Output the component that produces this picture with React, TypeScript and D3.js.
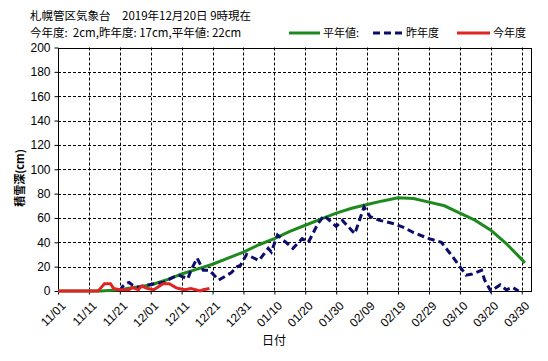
import React, { useEffect, useRef } from "react";
import * as d3 from "d3";

// days counted from 2019-11-01
const normalDays = [0, 14, 20, 25, 30, 35, 40, 45, 50, 55, 60, 65, 70, 75, 80, 85, 90, 95, 100, 105, 110, 115, 120, 125, 130, 135, 140, 145, 150, 151];
const normalVals = [0, 0, 1, 3, 5, 9, 14, 18, 22, 27, 32, 38, 43, 49, 54, 59, 64, 68, 71, 74, 76.5, 76, 73, 70, 64, 58, 50, 39, 26, 23];

const lastDays = [20, 21, 22, 23, 24, 26, 29, 34, 37, 39, 42, 43, 45, 47, 49, 52, 56, 58, 59, 61, 65, 68, 69, 71, 76, 79, 81, 84, 86, 90, 92, 96, 99, 101, 104, 106, 109, 112, 115, 120, 124, 128, 132, 134, 137, 138, 140, 143, 145, 147, 149];
const lastVals = [0, 4, 6, 7, 5, 3, 5, 7, 11, 13, 10, 17, 27, 17, 17, 9, 15, 20, 21, 30, 25, 35, 32, 46, 35, 43, 40, 55, 62, 53, 58, 47, 69, 61, 58, 57, 55, 52, 48, 43, 40, 27, 13, 14, 17, 9, 0, 5, 1, 3, 0];

const thisDays = [0, 13, 14, 15, 17, 18, 20, 23, 24, 26, 27, 29, 31, 34, 36, 38, 39, 41, 43, 46, 47, 49];
const thisVals = [0, 0, 3, 6, 6, 2, 1, 1, 3, 1, 4, 2, 1, 6, 6, 3, 2, 1, 2, 0, 1, 2];

const tickDays = d3.range(0, 151, 10);
const yTicks = [0, 20, 40, 60, 80, 100, 120, 140, 160, 180, 200];

const titleLines = [
  "札幌管区気象台　2019年12月20日 9時現在",
  "今年度:  2cm,昨年度: 17cm,平年値: 22cm",
];

const legendItems = [
  { label: "平年値:", color: "#1e8a1e", dash: null, x1: 289, x2: 320 },
  { label: "昨年度", color: "#0c0c6a", dash: "7,4", x1: 373, x2: 403 },
  { label: "今年度", color: "#e02424", dash: null, x1: 457, x2: 490 },
];

const start = new Date(2019, 10, 1);
const fmt = d3.timeFormat("%m/%d");
const jp = "'Noto Sans CJK JP', sans-serif";
const num = "'Liberation Sans Narrow', 'Liberation Sans', sans-serif";

const SnowChart = () => {
  const ref = useRef(null);

  useEffect(() => {
    document.body.style.margin = "0";
    const svg = d3.select(ref.current);
    svg.selectAll("*").remove();

    const width = 548, height = 361;
    const left = 58, right = 531, top = 47.5, bottom = 291;

    svg.attr("width", width).attr("height", height).style("background", "#fff").style("display", "block");

    const x = d3.scaleLinear().domain([0, 153]).range([left, right]);
    const y = d3.scaleLinear().domain([0, 200]).range([bottom, top]);

    // grid
    const grid = svg.append("g").attr("stroke", "#000").attr("stroke-width", 1).attr("stroke-dasharray", "3,2");
    grid.selectAll("line.h")
      .data(yTicks.filter((t) => t > 0 && t < 200))
      .join("line")
      .attr("x1", left).attr("x2", right)
      .attr("y1", (d) => Math.round(y(d)) + 0.5).attr("y2", (d) => Math.round(y(d)) + 0.5);
    grid.selectAll("line.v")
      .data(tickDays.filter((t) => t > 0))
      .join("line")
      .attr("y1", top).attr("y2", bottom)
      .attr("x1", (d) => Math.round(x(d)) + 0.5).attr("x2", (d) => Math.round(x(d)) + 0.5);

    // frame
    svg.append("rect")
      .attr("x", left + 0.5).attr("y", Math.round(top) + 0.5)
      .attr("width", right - left).attr("height", bottom - Math.round(top))
      .attr("fill", "none").attr("stroke", "#000").attr("stroke-width", 1);

    // y axis
    svg.append("g")
      .attr("transform", `translate(${left + 0.5},0)`)
      .call(d3.axisLeft(y).tickValues(yTicks).tickSize(4).tickPadding(4))
      .call((g) => g.select(".domain").remove())
      .call((g) => g.selectAll("text").attr("font-family", num).attr("font-size", 12).attr("fill", "#000"));

    // x axis
    const xAxis = svg.append("g")
      .attr("transform", `translate(0,${bottom + 0.5})`)
      .call(d3.axisBottom(x).tickValues(tickDays).tickSize(3).tickFormat((d) => fmt(d3.timeDay.offset(start, d))))
      .call((g) => g.select(".domain").remove());
    xAxis.selectAll("text")
      .attr("font-family", num)
      .attr("font-size", 12)
      .attr("fill", "#000")
      .attr("text-anchor", "end")
      .attr("dy", "0.35em")
      .attr("transform", "translate(5,12) rotate(-45)")
      .attr("y", 0)
      .attr("x", 0);

    const line = d3.line().x((d) => x(d[0])).y((d) => y(d[1]));

    svg.append("path")
      .datum(normalDays.map((d, i) => [d, normalVals[i]]))
      .attr("d", line)
      .attr("fill", "none").attr("stroke", legendItems[0].color).attr("stroke-width", 3);

    svg.append("path")
      .datum(lastDays.map((d, i) => [d, lastVals[i]]))
      .attr("d", line)
      .attr("fill", "none").attr("stroke", legendItems[1].color).attr("stroke-width", 3)
      .attr("stroke-dasharray", "7,4");

    svg.append("path")
      .datum(thisDays.map((d, i) => [d, thisVals[i]]))
      .attr("d", line)
      .attr("fill", "none").attr("stroke", legendItems[2].color).attr("stroke-width", 3);

    // title
    svg.selectAll("text.title")
      .data(titleLines)
      .join("text")
      .attr("x", 30)
      .attr("y", (d, i) => 20 + i * 17)
      .attr("font-family", jp)
      .attr("font-size", 11.5)
      .attr("fill", "#000")
      .style("white-space", "pre")
      .text((d) => d);

    // legend
    const lg = svg.append("g");
    legendItems.forEach((it) => {
      lg.append("line")
        .attr("x1", it.x1).attr("x2", it.x2).attr("y1", 33).attr("y2", 33)
        .attr("stroke", it.color).attr("stroke-width", 3)
        .attr("stroke-dasharray", it.dash);
      lg.append("text")
        .attr("x", it.x2 + 3).attr("y", 37)
        .attr("font-family", jp).attr("font-size", 11).attr("fill", "#000")
        .text(it.label);
    });

    // axis titles
    svg.append("text")
      .attr("transform", "translate(24,178) rotate(-90)")
      .attr("text-anchor", "middle")
      .attr("font-family", jp).attr("font-size", 11).attr("font-weight", "bold")
      .text("積雪深(cm)");

    svg.append("text")
      .attr("x", 274).attr("y", 345)
      .attr("text-anchor", "middle")
      .attr("font-family", jp).attr("font-size", 12)
      .text("日付");
  }, []);

  return <svg ref={ref} />;
};

export default function App() {
  return <SnowChart />;
}
